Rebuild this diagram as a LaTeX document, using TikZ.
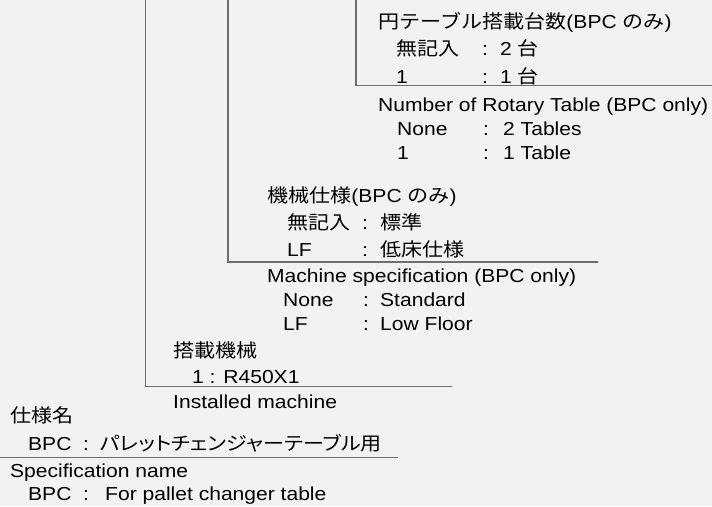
\documentclass[tikz,border=0pt]{standalone}
\usepackage{fontspec}
\setmainfont{Liberation Sans}[FakeStretch=1.12]
\newfontfamily\jp{Noto Sans CJK JP}[FakeStretch=1.12]
\newfontfamily\jpp{Noto Sans CJK JP}[FakeStretch=1.12,RawFeature=+palt]
\definecolor{bg}{HTML}{F2F2F2}
\definecolor{ln}{HTML}{6E6E6E}
\tikzset{
  txt/.style={anchor=base west, inner sep=0pt, font=\fontsize{18.8}{22}\selectfont, text=black},
  brk/.style={draw=ln, line width=1.3pt}
}
\begin{document}
\begin{tikzpicture}[x=1pt,y=-1pt]
\useasboundingbox[fill=bg] (0,0) rectangle (712,506);
% ---------- group 1: rotary tables ----------
\coordinate (v1t) at (356,0);
\coordinate (v1e) at (712,85.5);
\draw[brk] (v1t) |- (v1e);
\node[txt] (g1h)  at (378,28)   {{\jp 円テーブル搭載台数}(BPC {\jp のみ})};
\node[txt] (g1k1) at (396,55.5) {{\jp 無記入}};
\node[txt] (g1c1) at (482,55.5) {:};
\node[txt] (g1v1) at (500,55.5) {2 {\jp 台}};
\node[txt] (g1k2) at (396,83)   {1};
\node[txt] (g1c2) at (482,83)   {:};
\node[txt] (g1v2) at (500,83)   {1 {\jp 台}};
\node[txt] (g1e)  at (378,111)  {Number of Rotary Table (BPC only)};
\node[txt] (g1e1) at (397,135.5){None};
\node[txt] (g1d1) at (483,135.5){:};
\node[txt] (g1w1) at (503,135.5){2 Tables};
\node[txt] (g1e2) at (397,159)  {1};
\node[txt] (g1d2) at (483,159)  {:};
\node[txt] (g1w2) at (503,159)  {1 Table};
% ---------- group 2: machine specification ----------
\coordinate (v2t) at (228,0);
\coordinate (v2e) at (598,262);
\draw[brk] (v2t) |- (v2e);
\node[txt] (g2h)  at (267,202)  {{\jp 機械仕様}(BPC {\jp のみ})};
\node[txt] (g2k1) at (287,229)  {{\jp 無記入}};
\node[txt] (g2c1) at (362,229)  {:};
\node[txt] (g2v1) at (380,229)  {{\jp 標準}};
\node[txt] (g2k2) at (287,256)  {LF};
\node[txt] (g2c2) at (362,256)  {:};
\node[txt] (g2v2) at (380,256)  {{\jp 低床仕様}};
\node[txt] (g2e)  at (267,282)  {Machine specification (BPC only)};
\node[txt] (g2e1) at (283,306.5){None};
\node[txt] (g2d1) at (363,306.5){:};
\node[txt] (g2w1) at (380,306.5){Standard};
\node[txt] (g2e2) at (283,330.5){LF};
\node[txt] (g2d2) at (363,330.5){:};
\node[txt] (g2w2) at (380,330.5){Low Floor};
% ---------- group 3: installed machine ----------
\coordinate (v3t) at (145.5,0);
\coordinate (v3e) at (452,386.5);
\draw[brk] (v3t) |- (v3e);
\node[txt] (g3h)  at (173,357)  {{\jp 搭載機械}};
\node[txt] (g3k1) at (192,383)  {1 : R450X1};
\node[txt] (g3e)  at (173,408)  {Installed machine};
% ---------- group 4: specification name ----------
\coordinate (h4s) at (0,457.5);
\coordinate (h4e) at (398,457.5);
\draw[brk] (h4s) -- (h4e);
\node[txt] (g4h)  at (10,422.5) {{\jp 仕様名}};
\node[txt] (g4k1) at (28,450)   {BPC};
\node[txt] (g4c1) at (83,450)   {:};
\node[txt] (g4v1) at (100,450)  {{\jpp パレットチェンジャーテーブル用}};
\node[txt] (g4e)  at (10,477)   {Specification name};
\node[txt] (g4e1) at (28,500)   {BPC};
\node[txt] (g4d1) at (83,500)   {:};
\node[txt] (g4w1) at (105,500)  {For pallet changer table};
\end{tikzpicture}
\end{document}
